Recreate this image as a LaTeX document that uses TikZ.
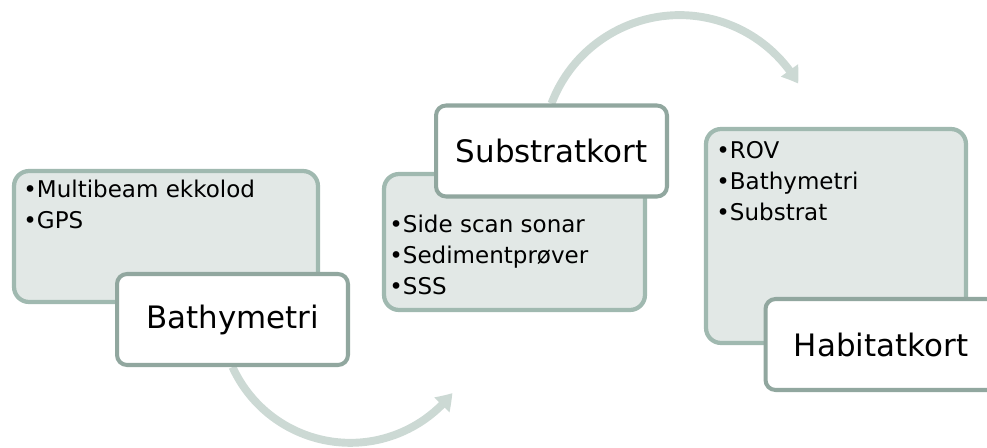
\documentclass[tikz,border=0pt]{standalone}
\usepackage{fontspec}
\setmainfont{DejaVu Sans}
\usetikzlibrary{arrows.meta,backgrounds,bending}

\definecolor{panelfill}{RGB}{226,232,230}
\definecolor{panelline}{RGB}{160,185,176}
\definecolor{titleline}{RGB}{145,167,159}
\definecolor{flowline}{RGB}{204,217,212}

\begin{document}
\begin{tikzpicture}[
  x=0.02cm, y=0.02cm,
  panel/.style={draw=panelline, fill=panelfill, line width=2.4pt,
                rounded corners=0.3cm, inner sep=0pt},
  title/.style={draw=titleline, fill=white, line width=2.3pt,
                rounded corners=0.2cm, minimum width=4.62cm, minimum height=1.82cm,
                inner sep=0pt, font=\fontsize{17.6}{21}\selectfont},
  items/.style={anchor=north west, align=left, inner sep=0pt,
                font=\fontsize{13.1}{17.6}\selectfont},
  flow/.style={draw=flowline, line width=4.5pt,
               -{Triangle[width=11.5pt,length=9pt,bend]}}
]
  \useasboundingbox (0,0) rectangle (987,447);

  % step 1
  \node[panel, minimum width=6.08cm, minimum height=2.62cm] (raw1) at (166,210.5) {};
  \node[items] (list1) at (23,267.5) {•Multibeam ekkolod\\•GPS};
  \node[title] (bath) at (232.5,127.5) {Bathymetri};

  % step 2
  \node[panel, minimum width=5.22cm, minimum height=2.72cm] (raw2) at (514.5,205) {};
  \node[items] (list2) at (389,232.5) {•Side scan sonar\\•Sedimentprøver\\•SSS};
  \node[title] (sub) at (551.5,296) {Substratkort};

  % step 3
  \node[panel, minimum width=5.2cm, minimum height=4.28cm] (raw3) at (836,211) {};
  \node[items] (list3) at (716,306) {•ROV\\•Bathymetri\\•Substrat};
  \node[title] (hab) at (881,102.5) {Habitatkort};

  % curved arrows behind the boxes
  \begin{scope}[on background layer]
    \draw[flow] (bath.south) arc[start angle=204.5, end angle=322, radius=2.59cm];
    \draw[flow] (sub.north) arc[start angle=159.2, end angle=30, radius=2.74cm];
  \end{scope}
\end{tikzpicture}
\end{document}
